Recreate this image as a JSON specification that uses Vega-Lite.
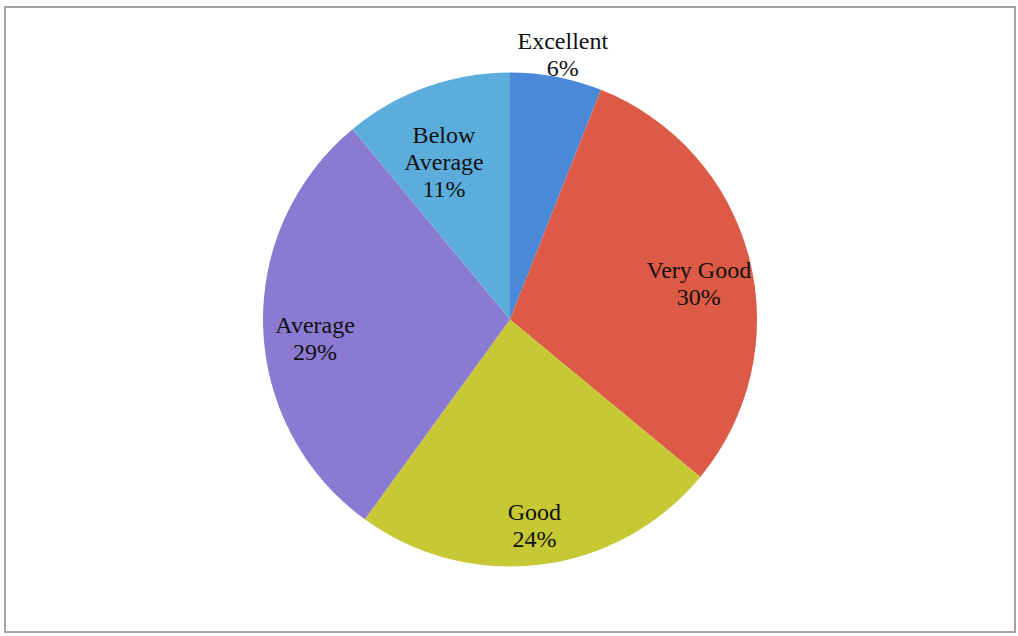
{
  "$schema": "https://vega.github.io/schema/vega-lite/v6.json",
  "autosize": {"type": "fit", "contains": "padding"},
  "width": 1018,
  "height": 636,
  "padding": {"left": 4, "top": 6, "right": 2, "bottom": 3},
  "background": "white",
  "data": {
    "values": [
      {"category": "Excellent", "value": 6, "order": 1, "label": "Excellent\n6%"},
      {"category": "Very Good", "value": 30, "order": 2, "label": "Very Good\n30%"},
      {"category": "Good", "value": 24, "order": 3, "label": "Good\n24%"},
      {"category": "Average", "value": 29, "order": 4, "label": "Average\n29%"},
      {"category": "Below Average", "value": 11, "order": 5, "label": "Below\nAverage\n11%"}
    ]
  },
  "layer": [
    {
      "mark": {"type": "rect", "fill": null, "stroke": "#a9a1a3", "strokeWidth": 2},
      "transform": [{"filter": "datum.order === 1"}],
      "encoding": {}
    },
    {
      "mark": {"type": "arc", "radius": 247},
      "encoding": {
        "theta": {"field": "value", "type": "quantitative", "stack": true},
        "order": {"field": "order", "type": "quantitative"},
        "color": {
          "field": "category",
          "type": "nominal",
          "scale": {
            "domain": ["Excellent", "Very Good", "Good", "Average", "Below Average"],
            "range": ["#4a88d8", "#dc5a46", "#c6c834", "#8a7ad2", "#5cacdc"]
          },
          "legend": null
        }
      }
    },
    {
      "mark": {"type": "text", "radius": 195, "font": "Liberation Serif", "fontSize": 24, "lineHeight": 27, "lineBreak": "\n", "color": "#111111", "align": "center", "baseline": "middle"},
      "encoding": {
        "theta": {"field": "value", "type": "quantitative", "stack": true},
        "order": {"field": "order", "type": "quantitative"},
        "text": {"field": "label"},
        "opacity": {"condition": {"test": "datum.category === 'Excellent'", "value": 0}, "value": 1}
      }
    },
    {
      "mark": {"type": "text", "radius": 282, "font": "Liberation Serif", "fontSize": 24, "lineHeight": 27, "lineBreak": "\n", "color": "#111111", "align": "center", "baseline": "middle"},
      "encoding": {
        "theta": {"field": "value", "type": "quantitative", "stack": true},
        "order": {"field": "order", "type": "quantitative"},
        "text": {"field": "label"},
        "opacity": {"condition": {"test": "datum.category === 'Excellent'", "value": 1}, "value": 0}
      }
    }
  ]
}
